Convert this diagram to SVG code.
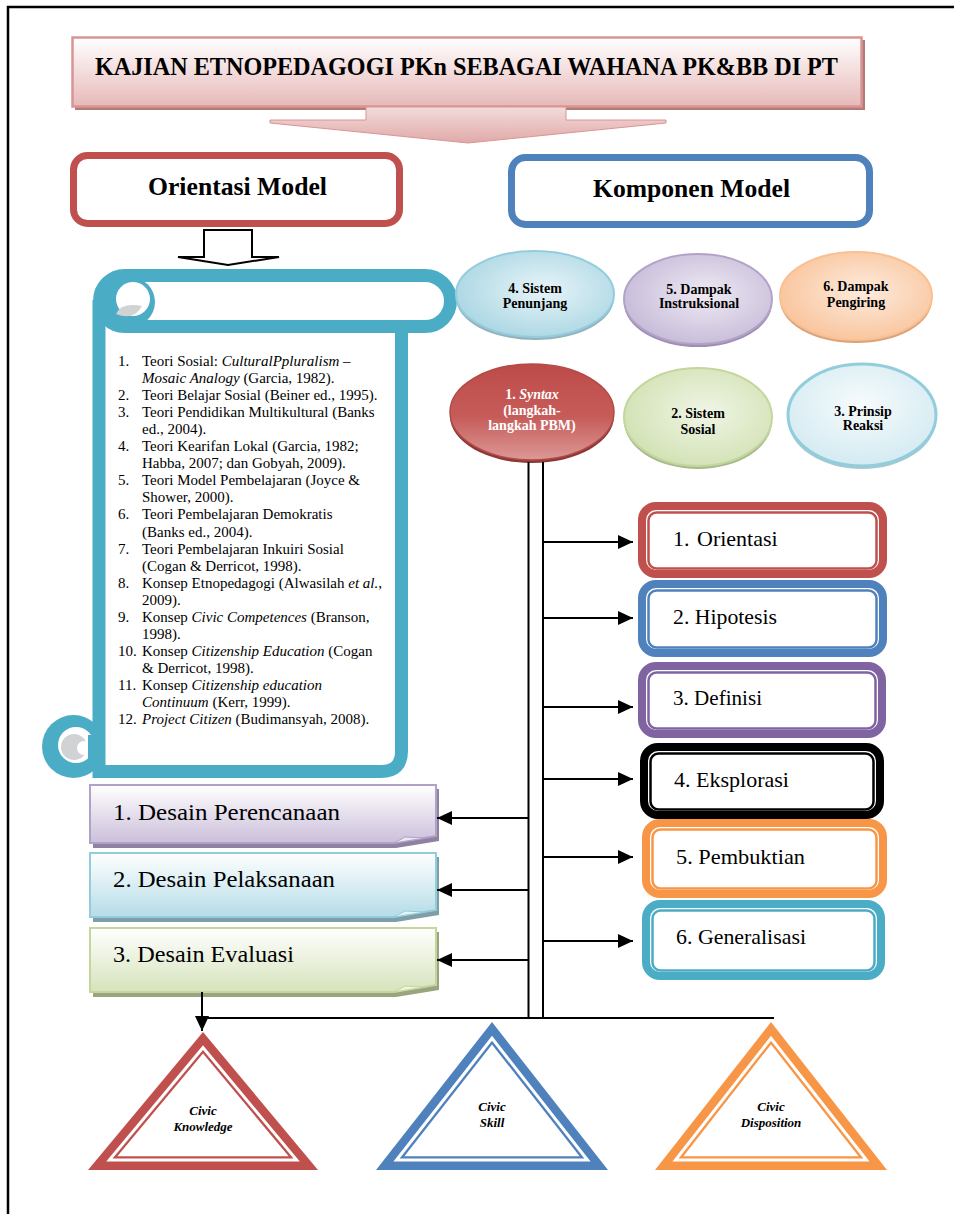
<svg xmlns="http://www.w3.org/2000/svg" width="954" height="1214" viewBox="0 0 954 1214">
<style>
.t{font-family:"Liberation Serif","Times New Roman",serif;fill:#000}
.b{font-weight:bold}
.i{font-style:italic}
.list{font-size:15px}
.el{font-size:14px;font-weight:bold;text-anchor:middle}
.bx{font-size:22px}
.ds{font-size:23px}
.tri{font-size:13px;font-weight:bold;font-style:italic;text-anchor:middle}
.conn{stroke:#000;stroke-width:2;fill:none}
.frame{stroke:#000;stroke-width:2.5;fill:none}
</style>
<defs>
<marker id="ah" markerUnits="userSpaceOnUse" markerWidth="15" markerHeight="14" refX="15" refY="7" orient="auto">
<path d="M0,0 L15,7 L0,14 Z" fill="#000"/>
</marker>
<linearGradient id="gTitle" x1="0" y1="0" x2="0" y2="1"><stop offset="0" stop-color="#ffffff"/><stop offset="1" stop-color="#e6b9b8"/></linearGradient>
<linearGradient id="gArrow" x1="0" y1="0" x2="0" y2="1"><stop offset="0" stop-color="#f2dcdb"/><stop offset="1" stop-color="#e0a9a8"/></linearGradient>
<radialGradient id="gE4" cx="0.55" cy="0.45" r="0.6"><stop offset="0" stop-color="#e8f4f8"/><stop offset="1" stop-color="#a9d6e3"/></radialGradient>
<radialGradient id="gE5" cx="0.55" cy="0.45" r="0.6"><stop offset="0" stop-color="#eeeaf3"/><stop offset="1" stop-color="#c6bad8"/></radialGradient>
<radialGradient id="gE6" cx="0.55" cy="0.45" r="0.6"><stop offset="0" stop-color="#fdebdd"/><stop offset="1" stop-color="#f9c39a"/></radialGradient>
<linearGradient id="gE1" x1="0" y1="0" x2="0" y2="1"><stop offset="0" stop-color="#bd4b48"/><stop offset="0.55" stop-color="#c65c59"/><stop offset="1" stop-color="#dc9896"/></linearGradient>
<radialGradient id="gE2" cx="0.55" cy="0.45" r="0.6"><stop offset="0" stop-color="#f0f5e6"/><stop offset="1" stop-color="#d1e1b2"/></radialGradient>
<radialGradient id="gE3" cx="0.5" cy="0.4" r="0.6"><stop offset="0" stop-color="#f7fbfc"/><stop offset="1" stop-color="#d3ebf2"/></radialGradient>
<linearGradient id="gD1" x1="0" y1="0" x2="0" y2="1"><stop offset="0" stop-color="#ffffff"/><stop offset="1" stop-color="#cbbfda"/></linearGradient>
<linearGradient id="gD2" x1="0" y1="0" x2="0" y2="1"><stop offset="0" stop-color="#ffffff"/><stop offset="1" stop-color="#b5dce7"/></linearGradient>
<linearGradient id="gD3" x1="0" y1="0" x2="0" y2="1"><stop offset="0" stop-color="#ffffff"/><stop offset="1" stop-color="#d6e3bb"/></linearGradient>
<path id="triR" d="M0,-84.1 L115,53.9 L-115,53.9 Z"/>
<path id="triB" d="M0,-91.5 L116,56.5 L-116,56.5 Z"/>
</defs>

<g id="frame">
<path class="frame" d="M954,7 H8 V1214"/>
</g>

<g id="title">
<rect x="75" y="40" width="790" height="70" fill="#b47a79"/>
<rect x="72.5" y="37.5" width="789" height="69" fill="url(#gTitle)" stroke="#d99594" stroke-width="2.5"/>
<text class="t b" x="95" y="75" font-size="25" textLength="743" lengthAdjust="spacingAndGlyphs">KAJIAN ETNOPEDAGOGI PKn SEBAGAI WAHANA PK&amp;BB DI PT</text>
<path d="M366,107 H566 V120 H666 V123 L468,143 L270,123 V120 H366 Z" fill="url(#gArrow)" stroke="#d99594" stroke-width="1"/>
</g>

<g id="orientasi-model">
<rect x="73.5" y="155.5" width="326" height="68" rx="14" fill="#fff" stroke="#c0504d" stroke-width="7"/>
<text class="t b" x="148" y="195" font-size="25" textLength="179" lengthAdjust="spacingAndGlyphs">Orientasi Model</text>
<path d="M204,230 H252 V257 H279 L228,265 L178,257 H204 Z" fill="#fff" stroke="#000" stroke-width="2"/>
</g>

<g id="komponen-model">
<rect x="511.5" y="157.5" width="358" height="67" rx="14" fill="#fff" stroke="#4f81bd" stroke-width="7"/>
<text class="t b" x="593" y="197" font-size="25" textLength="197" lengthAdjust="spacingAndGlyphs">Komponen Model</text>
</g>

<g id="scroll">
<path d="M99,300 V771.5 H381 Q401.5,771.5 401.5,751 V320" fill="#fff" stroke="#4bacc6" stroke-width="13"/>
<rect x="99.5" y="275.5" width="351" height="51" rx="25.5" fill="#fff" stroke="#4bacc6" stroke-width="13"/>
<circle cx="130" cy="302" r="25" fill="#4bacc6"/>
<circle cx="133" cy="299" r="17" fill="#fff"/>
<path d="M116,314 Q121,302 142,306 Q134,321 116,314 Z" fill="#d0d2d3"/>
<circle cx="73.5" cy="746.5" r="31.5" fill="#4bacc6"/>
<circle cx="76" cy="745" r="18" fill="#fff"/>
<circle cx="74" cy="747" r="13" fill="#d0d2d3"/>
<circle cx="84" cy="748" r="7" fill="#fff"/>
<rect x="88" y="735" width="10" height="24" fill="#4bacc6"/>
<g class="t list">
<text x="118" y="366">1.</text><text x="142" y="366">Teori Sosial: <tspan class="i">CulturalPpluralism</tspan> –</text>
<text x="142" y="383"><tspan class="i">Mosaic Analogy</tspan> (Garcia, 1982).</text>
<text x="118" y="400">2.</text><text x="142" y="400">Teori Belajar Sosial (Beiner ed., 1995).</text>
<text x="118" y="417">3.</text><text x="142" y="417">Teori Pendidikan Multikultural (Banks</text>
<text x="142" y="434">ed., 2004).</text>
<text x="118" y="451">4.</text><text x="142" y="451">Teori Kearifan Lokal (Garcia, 1982;</text>
<text x="142" y="468">Habba, 2007; dan Gobyah, 2009).</text>
<text x="118" y="485">5.</text><text x="142" y="485">Teori Model Pembelajaran (Joyce &amp;</text>
<text x="142" y="502">Shower, 2000).</text>
<text x="118" y="519">6.</text><text x="142" y="519">Teori Pembelajaran Demokratis</text>
<text x="142" y="537">(Banks ed., 2004).</text>
<text x="118" y="554">7.</text><text x="142" y="554">Teori Pembelajaran Inkuiri Sosial</text>
<text x="142" y="571">(Cogan &amp; Derricot, 1998).</text>
<text x="118" y="588">8.</text><text x="142" y="588">Konsep Etnopedagogi (Alwasilah <tspan class="i">et al.</tspan>,</text>
<text x="142" y="605">2009).</text>
<text x="118" y="622">9.</text><text x="142" y="622">Konsep <tspan class="i">Civic Competences</tspan> (Branson,</text>
<text x="142" y="639">1998).</text>
<text x="118" y="656">10.</text><text x="142" y="656">Konsep <tspan class="i">Citizenship Education</tspan> (Cogan</text>
<text x="142" y="673">&amp; Derricot, 1998).</text>
<text x="118" y="690">11.</text><text x="142" y="690">Konsep <tspan class="i">Citizenship education</tspan></text>
<text x="142" y="707"><tspan class="i">Continuum</tspan> (Kerr, 1999).</text>
<text x="118" y="724">12.</text><text x="142" y="724"><tspan class="i">Project Citizen</tspan> (Budimansyah, 2008).</text>
</g>
</g>

<g id="e4-sistem-penunjang">
<ellipse cx="535" cy="298" rx="79" ry="42" fill="#93b3bd"/>
<ellipse cx="535" cy="294" rx="79" ry="43" fill="url(#gE4)" stroke="#93cddd" stroke-width="2"/>
<text class="t el" x="535" y="293">4. Sistem</text>
<text class="t el" x="535" y="308">Penunjang</text>
</g>
<g id="e5-dampak-instruksional">
<ellipse cx="698" cy="303" rx="74" ry="44" fill="#9d8fb3"/>
<ellipse cx="698" cy="299" rx="74" ry="45" fill="url(#gE5)" stroke="#b3a2c7" stroke-width="2"/>
<text class="t el" x="699" y="294">5. Dampak</text>
<text class="t el" x="699" y="308">Instruksional</text>
</g>
<g id="e6-dampak-pengiring">
<ellipse cx="856" cy="300" rx="76" ry="43" fill="#d9a27d"/>
<ellipse cx="856" cy="296" rx="76" ry="44" fill="url(#gE6)" stroke="#fac08f" stroke-width="2"/>
<text class="t el" x="856" y="291">6. Dampak</text>
<text class="t el" x="856" y="307">Pengiring</text>
</g>
<g id="e1-syntax">
<ellipse cx="532" cy="416" rx="82" ry="47" fill="#8c3836"/>
<ellipse cx="532" cy="412" rx="82" ry="48" fill="url(#gE1)" stroke="#b24b48" stroke-width="1.5"/>
<text class="t el" x="532" y="399" fill="#fff" style="fill:#fff">1. <tspan class="i">Syntax</tspan></text>
<text class="t el" x="532" y="415" style="fill:#fff">(langkah-</text>
<text class="t el" x="532" y="430" style="fill:#fff">langkah PBM)</text>
</g>
<g id="e2-sistem-sosial">
<ellipse cx="698" cy="421" rx="74" ry="48" fill="#a9b98e"/>
<ellipse cx="698" cy="417" rx="74" ry="49" fill="url(#gE2)" stroke="#c3d69b" stroke-width="2"/>
<text class="t el" x="698" y="418">2. Sistem</text>
<text class="t el" x="698" y="434">Sosial</text>
</g>
<g id="e3-prinsip-reaksi">
<ellipse cx="862" cy="419" rx="74" ry="50" fill="#a9c7cf"/>
<ellipse cx="862" cy="415" rx="74" ry="51" fill="url(#gE3)" stroke="#92cddc" stroke-width="3"/>
<text class="t el" x="863" y="416">3. Prinsip</text>
<text class="t el" x="863" y="430">Reaksi</text>
</g>

<g id="box1-orientasi">
<rect x="642" y="506" width="241" height="68" rx="14" fill="#fff" stroke="#c0504d" stroke-width="8"/>
<rect x="648.5" y="512.5" width="228" height="56" rx="8" fill="#fff" stroke="#c0504d" stroke-width="2.5"/>
<text class="t bx" x="673" y="546">1.<tspan x="697">Orientasi</tspan></text>
</g>
<g id="box2-hipotesis">
<rect x="642" y="584" width="241" height="69" rx="14" fill="#fff" stroke="#4f81bd" stroke-width="8"/>
<rect x="648.5" y="590.5" width="228" height="57" rx="8" fill="#fff" stroke="#4f81bd" stroke-width="2.5"/>
<text class="t bx" x="673" y="624" textLength="104" lengthAdjust="spacingAndGlyphs">2. Hipotesis</text>
</g>
<g id="box3-definisi">
<rect x="642" y="666" width="240" height="68" rx="14" fill="#fff" stroke="#8064a2" stroke-width="8"/>
<rect x="648.5" y="672.5" width="227" height="56" rx="8" fill="#fff" stroke="#8064a2" stroke-width="2.5"/>
<text class="t bx" x="673" y="705" textLength="89" lengthAdjust="spacingAndGlyphs">3. Definisi</text>
</g>
<g id="box4-eksplorasi">
<rect x="644" y="747" width="236" height="68" rx="14" fill="#fff" stroke="#000" stroke-width="8"/>
<rect x="650.5" y="753.5" width="223" height="56" rx="8" fill="#fff" stroke="#000" stroke-width="2.5"/>
<text class="t bx" x="674" y="787" textLength="115" lengthAdjust="spacingAndGlyphs">4. Eksplorasi</text>
</g>
<g id="box5-pembuktian">
<rect x="646" y="823" width="237" height="71" rx="14" fill="#fff" stroke="#f79646" stroke-width="8"/>
<rect x="652.5" y="829.5" width="224" height="59" rx="8" fill="#fff" stroke="#f79646" stroke-width="2.5"/>
<text class="t bx" x="676" y="864" textLength="129" lengthAdjust="spacingAndGlyphs">5. Pembuktian</text>
</g>
<g id="box6-generalisasi">
<rect x="646" y="904" width="235" height="72" rx="14" fill="#fff" stroke="#4bacc6" stroke-width="8"/>
<rect x="652.5" y="910.5" width="222" height="60" rx="8" fill="#fff" stroke="#4bacc6" stroke-width="2.5"/>
<text class="t bx" x="676" y="944" textLength="130" lengthAdjust="spacingAndGlyphs">6. Generalisasi</text>
</g>

<g id="desain1-perencanaan">
<path d="M93,789 H439 V841 L396,848 H93 Z" fill="#8e82a0"/>
<path d="M90,785 H436 V836 L394,843 H90 Z" fill="url(#gD1)" stroke="#b2a1c7" stroke-width="2"/>
<path d="M394,843 L405,837 L425,838 Z" fill="#ece8f2" stroke="#b2a1c7" stroke-width="1"/>
<text class="t ds" x="113" y="820" textLength="227" lengthAdjust="spacingAndGlyphs">1. Desain Perencanaan</text>
</g>
<g id="desain2-pelaksanaan">
<path d="M93,857 H439 V915 L396,922 H93 Z" fill="#7f9ea8"/>
<path d="M90,853 H436 V910 L394,917 H90 Z" fill="url(#gD2)" stroke="#92cddc" stroke-width="2"/>
<path d="M394,917 L405,911 L425,912 Z" fill="#e6f3f7" stroke="#92cddc" stroke-width="1"/>
<text class="t ds" x="113" y="887" textLength="222" lengthAdjust="spacingAndGlyphs">2. Desain Pelaksanaan</text>
</g>
<g id="desain3-evaluasi">
<path d="M93,932 H439 V990 L396,997 H93 Z" fill="#9aa580"/>
<path d="M90,928 H436 V985 L394,992 H90 Z" fill="url(#gD3)" stroke="#c3d69b" stroke-width="2"/>
<path d="M394,992 L405,986 L425,987 Z" fill="#eef3e2" stroke="#c3d69b" stroke-width="1"/>
<text class="t ds" x="113" y="962" textLength="181" lengthAdjust="spacingAndGlyphs">3. Desain Evaluasi</text>
</g>

<g id="tri-civic-knowledge">
<use href="#triR" transform="translate(203,1116.1)" fill="#c0504d"/>
<use href="#triR" transform="translate(203,1116.1) scale(0.842)" fill="#fff"/>
<use href="#triR" transform="translate(203,1116.1) scale(0.787)" fill="#c0504d"/>
<use href="#triR" transform="translate(203,1116.1) scale(0.745)" fill="#fff"/>
<text class="t tri" x="203" y="1115">Civic</text>
<text class="t tri" x="203" y="1131">Knowledge</text>
</g>
<g id="tri-civic-skill">
<use href="#triB" transform="translate(492,1113.5)" fill="#4f81bd"/>
<use href="#triB" transform="translate(492,1113.5) scale(0.85)" fill="#fff"/>
<use href="#triB" transform="translate(492,1113.5) scale(0.796)" fill="#4f81bd"/>
<use href="#triB" transform="translate(492,1113.5) scale(0.755)" fill="#fff"/>
<text class="t tri" x="492" y="1111">Civic</text>
<text class="t tri" x="492" y="1127">Skill</text>
</g>
<g id="tri-civic-disposition">
<use href="#triB" transform="translate(771,1113.5)" fill="#f79646"/>
<use href="#triB" transform="translate(771,1113.5) scale(0.85)" fill="#fff"/>
<use href="#triB" transform="translate(771,1113.5) scale(0.796)" fill="#f79646"/>
<use href="#triB" transform="translate(771,1113.5) scale(0.755)" fill="#fff"/>
<text class="t tri" x="771" y="1111">Civic</text>
<text class="t tri" x="771" y="1127">Disposition</text>
</g>

<g id="connectors">
<line class="conn" x1="528.5" y1="462" x2="528.5" y2="1018"/>
<line class="conn" x1="543" y1="462" x2="543" y2="1018"/>
<line class="conn" x1="202" y1="1018" x2="774" y2="1018"/>
<line class="conn" x1="543" y1="542" x2="633" y2="542" marker-end="url(#ah)"/>
<line class="conn" x1="543" y1="618" x2="633" y2="618" marker-end="url(#ah)"/>
<line class="conn" x1="543" y1="707" x2="633" y2="707" marker-end="url(#ah)"/>
<line class="conn" x1="543" y1="779" x2="633" y2="779" marker-end="url(#ah)"/>
<line class="conn" x1="543" y1="857" x2="633" y2="857" marker-end="url(#ah)"/>
<line class="conn" x1="543" y1="941" x2="633" y2="941" marker-end="url(#ah)"/>
<line class="conn" x1="528" y1="818" x2="437" y2="818" marker-end="url(#ah)"/>
<line class="conn" x1="528" y1="890" x2="437" y2="890" marker-end="url(#ah)"/>
<line class="conn" x1="528" y1="960" x2="437" y2="960" marker-end="url(#ah)"/>
<line class="conn" x1="202" y1="992" x2="202" y2="1031" marker-end="url(#ah)"/>
</g>
</svg>
